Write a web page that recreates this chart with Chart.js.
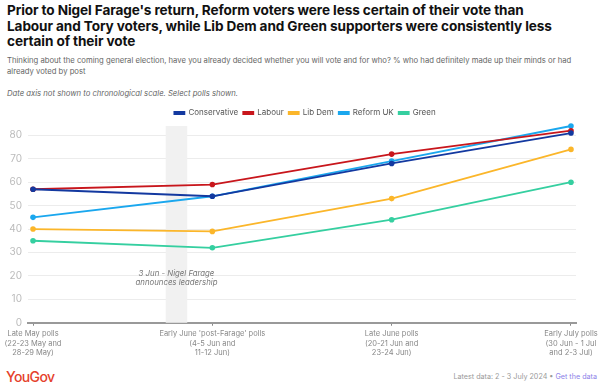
<!DOCTYPE html>
<html>
<head>
<meta charset="utf-8">
<script src="https://cdn.jsdelivr.net/npm/chart.js@4"></script>
<style>
    body { margin: 0; background: #fff; font-family: "Inter", sans-serif; }
    #page { position: relative; width: 602px; height: 387px; overflow: hidden; }
    #title { position: absolute; left: 7px; top: 3px; font-size: 13.6px; font-weight: 700; line-height: 15.5px; color: #111; white-space: nowrap; letter-spacing: -0.1px; }
    #subtitle { position: absolute; left: 7px; top: 55px; font-size: 7.7px; line-height: 11px; color: #666; white-space: nowrap; }
    #note { position: absolute; left: 7px; top: 89px; font-size: 7.7px; font-style: italic; color: #666; white-space: nowrap; }
    #chartBox { position: absolute; left: 0; top: 104px; width: 602px; height: 257px; }
    #logo { position: absolute; left: 6px; top: 368px; font-size: 14px; font-weight: 500; color: #e5412c; letter-spacing: -0.6px; }
    #source { position: absolute; right: 5px; top: 372px; font-size: 7.2px; color: #999; }
    #source span { color: #8c7fe8; }
</style>
</head>
<body>
<div id="page">
    <div id="title">Prior to Nigel Farage's return, Reform voters were less certain of their vote than<br>Labour and Tory voters, while Lib Dem and Green supporters were consistently less<br>certain of their vote</div>
    <div id="subtitle">Thinking about the coming general election, have you already decided whether you will vote and for who? % who had definitely made up their minds or had<br>already voted by post</div>
    <div id="note">Date axis not shown to chronological scale. Select polls shown.</div>
    <div id="chartBox"><canvas id="myChart"></canvas></div>
    <div id="logo">YouGov</div>
    <div id="source">Latest data: 2 - 3 July 2024 • <span>Get the data</span></div>
</div>
<script>
const categories = [
    ["Late May polls", "(22-23 May and", "28-29 May)"],
    ["Early June 'post-Farage' polls", "(4-5 Jun and", "11-12 Jun)"],
    ["Late June polls", "(20-21 Jun and", "23-24 Jun)"],
    ["Early July polls", "(30 Jun - 1 Jul", "and 2-3 Jul)"]
];
const conservative = [57, 54, 68, 81];
const labour = [57, 59, 72, 82];
const libDem = [40, 39, 53, 74];
const reformUK = [45, 54, 69, 84];
const green = [35, 32, 44, 60];
const yTicks = [0, 10, 20, 30, 40, 50, 60, 70, 80];

// shaded band for Farage's announcement (in x-axis units)
const bandFrom = 0.74;
const bandTo = 0.86;
const bandText = ["3 Jun - Nigel Farage", "announces leadership"];

function series(label, values, color) {
    return {
        label: label,
        data: values.map((v, i) => ({ x: i, y: v })),
        borderColor: color,
        backgroundColor: color,
        borderWidth: 1.8,
        pointRadius: 2.8,
        pointBorderWidth: 0,
        tension: 0,
        clip: false
    };
}

const bandPlugin = {
    id: 'bandPlugin',
    beforeDatasetsDraw(chart) {
        const { ctx, chartArea, scales } = chart;
        const x1 = scales.x.getPixelForValue(bandFrom);
        const x2 = scales.x.getPixelForValue(bandTo);
        ctx.save();
        ctx.fillStyle = '#f1f1f1';
        ctx.fillRect(x1, chartArea.top, x2 - x1, chartArea.bottom - chartArea.top);
        ctx.font = 'italic 7.8px Inter';
        ctx.fillStyle = '#777';
        ctx.textAlign = 'center';
        ctx.textBaseline = 'middle';
        const cx = (x1 + x2) / 2;
        const y = scales.y.getPixelForValue(20.8);
        ctx.fillText(bandText[0], cx, y);
        ctx.fillText(bandText[1], cx, y + 9);
        ctx.restore();
    }
};

// fixed legend height, legend centred on the full canvas width
const legendLayout = {
    id: 'legendLayout',
    beforeInit(chart) {
        const fit = chart.legend.fit;
        chart.legend.fit = function () {
            fit.call(this);
            this.height = 22;
        };
    },
    beforeDraw(chart) {
        chart.legend.left = 8;
        chart.legend.right = chart.width;
    }
};

const ctx = document.getElementById("myChart").getContext("2d");
new Chart(ctx, {
    type: 'line',
    data: {
        datasets: [
            series("Conservative", conservative, '#1339a0'),
            series("Labour", labour, '#c8161c'),
            series("Lib Dem", libDem, '#fbb62a'),
            series("Reform UK", reformUK, '#1aa7ee'),
            series("Green", green, '#35cfa0')
        ]
    },
    options: {
        responsive: true,
        maintainAspectRatio: false,
        animation: false,
        layout: { padding: { left: 0, right: 26, top: 0, bottom: 0 } },
        plugins: {
            legend: {
                position: 'top',
                labels: {
                    boxWidth: 10,
                    boxHeight: 2,
                    padding: 5,
                    color: '#555',
                    font: { family: 'Inter', size: 8 }
                }
            },
            tooltip: { enabled: false }
        },
        scales: {
            x: {
                type: 'linear',
                min: -0.028,
                max: 3.028,
                afterBuildTicks: s => { s.ticks = categories.map((c, i) => ({ value: i })); },
                ticks: {
                    autoSkip: false,
                    maxRotation: 0,
                    color: '#888',
                    padding: 3,
                    font: { family: 'Inter', size: 7.5, lineHeight: 1.3 },
                    callback: v => categories[v]
                },
                grid: { drawOnChartArea: false, tickLength: 3, color: '#888' },
                border: { color: '#999', width: 2 }
            },
            y: {
                min: 0,
                max: 84,
                afterBuildTicks: s => { s.ticks = yTicks.map(v => ({ value: v })); },
                afterFit: s => { s.width = 28; },
                ticks: {
                    color: '#bbb',
                    padding: 6,
                    font: { family: 'Inter', size: 10 }
                },
                grid: { color: '#ececec', drawTicks: false },
                border: { display: false }
            }
        }
    },
    plugins: [bandPlugin, legendLayout]
});
</script>
</body>
</html>
